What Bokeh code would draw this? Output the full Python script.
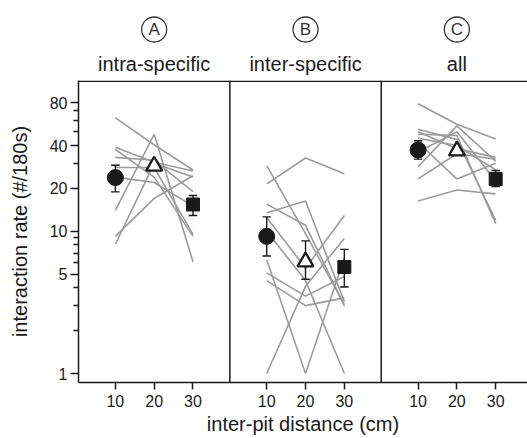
from bokeh.plotting import figure
from bokeh.layouts import column
from bokeh.models import FixedTicker, Span, NumeralTickFormatter, Range1d
from bokeh.embed import file_html
from bokeh.resources import INLINE
from bokeh.core.properties import value

FONT = "Liberation Sans"

# ---------------- data ----------------
distances = [10, 20, 30]
panel_letters = ["A", "B", "C"]
panel_titles = ["intra-specific", "inter-specific", "all"]

# individual trajectories (rate at 10, 20, 30 cm)
lines_A = [
    [62.6, 40.5, 26.9],
    [14.0, 48.0, 6.1],
    [38.9, 30.5, 26.5],
    [37.5, 24.0, 9.2],
    [33.0, 31.5, 19.0],
    [8.1, 30.0, 24.0],
    [9.2, 17.0, 24.5],
    [28.0, 28.0, 9.5],
    [24.0, 22.0, 15.0],
]
lines_B = [
    [21.5, 32.7, 25.3],
    [28.9, 9.6, 3.05],
    [13.5, 16.3, 3.2],
    [15.5, 11.0, 3.0],
    [12.5, 5.5, 12.9],
    [5.1, 3.5, 4.8],
    [1.0, 4.1, 8.9],
    [6.3, 1.0, 6.5],
    [10.0, 4.5, 1.0],
    [4.5, 3.0, 3.4],
]
lines_C = [
    [78.6, 56.4, 44.4],
    [52.0, 44.0, 11.9],
    [48.0, 47.0, 11.3],
    [28.4, 55.0, 31.0],
    [23.3, 35.0, 32.0],
    [16.3, 19.5, 18.3],
    [42.0, 23.3, 30.0],
    [45.0, 40.0, 27.0],
    [36.0, 50.0, 22.5],
    [50.0, 38.0, 33.0],
]

# means with error bars (10 cm, 20 cm, 30 cm)
mean_A = [23.8, 28.7, 15.4]
low_A = [18.9, 27.0, 12.9]
high_A = [29.1, 30.5, 17.8]

mean_B = [9.2, 6.1, 5.6]
low_B = [6.7, 4.6, 4.05]
high_B = [12.6, 8.55, 7.45]

mean_C = [37.2, 36.7, 23.3]
low_C = [32.1, 35.0, 20.6]
high_C = [43.2, 38.5, 26.7]

y_ticks = [1, 5, 10, 20, 40, 80]
y_minor_ticks = [2, 3, 4, 6, 7, 8, 9, 30, 50, 60, 70]

panel_lines = [lines_A, lines_B, lines_C]
panel_means = [mean_A, mean_B, mean_C]
panel_lows = [low_A, low_B, low_C]
panel_highs = [high_A, high_B, high_C]

SHIFT = 39
X_RANGE = Range1d(0.5, 116.2)
W = 527
LEFT = 78
TOP_H = 76
GRAY = "#9b9b9b"
INK = "#1a1a1a"

# ---------------- header figure ----------------
top = figure(width=W, height=TOP_H, x_range=X_RANGE, y_range=Range1d(0, TOP_H),
             x_axis_location=None, y_axis_location=None,
             output_backend="svg", toolbar_location=None,
             min_border_left=LEFT, min_border_right=0,
             min_border_top=0, min_border_bottom=0)
top.grid.visible = False
top.outline_line_color = None
cx = [20 + SHIFT * k for k in range(3)]
top.scatter(cx, [TOP_H - 29] * 3, marker="circle", size=25, fill_color=None,
            line_color="#333333", line_width=1.3)
top.text(cx, [TOP_H - 29] * 3, text=panel_letters, text_align="center",
         text_baseline="middle", text_font=value(FONT),
         text_font_size="17px", text_color="#333333")
top.text(cx, [TOP_H - 63] * 3, text=panel_titles, text_align="center",
         text_baseline="middle", text_font=value(FONT),
         text_font_size="20px", text_color=INK)

# ---------------- main figure ----------------
p = figure(width=W, height=361, x_range=X_RANGE, y_range=Range1d(0.865, 114.5),
           y_axis_type="log", output_backend="svg", toolbar_location=None,
           min_border_left=LEFT, min_border_right=0, min_border_top=4,
           min_border_bottom=54)
p.grid.visible = False
p.outline_line_color = None

for k in range(3):
    xs = [d + SHIFT * k for d in distances]
    p.multi_line([xs] * len(panel_lines[k]), panel_lines[k],
                 line_color=GRAY, line_width=1.6)

for k in range(3):
    xs = [d + SHIFT * k for d in distances]
    lo, hi = panel_lows[k], panel_highs[k]
    p.segment(xs, lo, xs, hi, line_color=INK, line_width=1.4)
    p.segment([x - 1.1 for x in xs], lo, [x + 1.1 for x in xs], lo,
              line_color=INK, line_width=1.4)
    p.segment([x - 1.1 for x in xs], hi, [x + 1.1 for x in xs], hi,
              line_color=INK, line_width=1.4)
    m = panel_means[k]
    p.scatter([xs[0]], [m[0]], marker="circle", size=16,
              fill_color=INK, line_color=INK)
    p.scatter([xs[1]], [m[1]], marker="triangle", size=16,
              fill_color="white", line_color=INK, line_width=2.3)
    p.scatter([xs[2]], [m[2]], marker="square", size=13,
              fill_color=INK, line_color=INK)

for xb in [39.5, 78.5]:
    p.add_layout(Span(location=xb, dimension="height", line_color=INK,
                      line_width=1.5))
p.add_layout(Span(location=113.0, dimension="width", line_color=INK,
                  line_width=1.5))

# axes
x_ticks = [d + SHIFT * k for k in range(3) for d in distances]
p.xaxis.ticker = FixedTicker(ticks=x_ticks, minor_ticks=[])
p.xaxis.major_label_overrides = {t: str(distances[i % 3]) for i, t in enumerate(x_ticks)}
p.yaxis.ticker = FixedTicker(ticks=y_ticks, minor_ticks=y_minor_ticks)
p.yaxis.formatter = NumeralTickFormatter(format="0")

p.xaxis.axis_label = "inter-pit distance (cm)"
p.yaxis.axis_label = "interaction rate (#/180s)"

for ax in p.axis:
    ax.axis_line_color = INK
    ax.axis_line_width = 1.5
    ax.major_tick_line_color = INK
    ax.major_tick_line_width = 1.5
    ax.minor_tick_line_color = INK
    ax.minor_tick_line_width = 1.3
    ax.major_tick_in = 0
    ax.minor_tick_in = 0
    ax.major_label_text_font = FONT
    ax.major_label_text_font_size = "16px"
    ax.major_label_text_color = INK
    ax.axis_label_text_font = FONT
    ax.axis_label_text_font_size = "20px"
    ax.axis_label_text_font_style = "normal"
    ax.axis_label_text_color = INK

p.xaxis.major_tick_out = 7
p.xaxis.major_label_standoff = 5
p.xaxis.axis_label_standoff = 3
p.yaxis.major_tick_out = 8
p.yaxis.minor_tick_out = 5
p.yaxis.major_label_standoff = 3
p.yaxis.axis_label_standoff = 16

layout = column(top, p, spacing=0)
open("out.html", "w").write(file_html(layout, INLINE))
